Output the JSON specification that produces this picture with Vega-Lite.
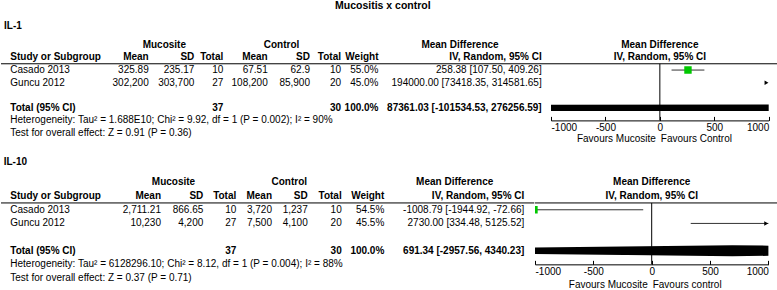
{
  "$schema": "https://vega.github.io/schema/vega-lite/v6.json",
  "padding": 0,
  "background": "white",
  "config": {
    "view": {"stroke": null},
    "font": "Liberation Sans",
    "text": {"fontSize": 10, "color": "black", "baseline": "middle"},
    "axis": {"labelFont": "Liberation Sans", "labelFontSize": 10, "labelColor": "black", "domainColor": "black", "tickColor": "black", "grid": false}
  },
  "title": {"text": "Mucositis x control", "fontSize": 10.5, "fontWeight": "bold", "color": "black", "anchor": "middle", "dx": -7, "offset": 10},
  "datasets": {
    "guides": [{"row": "line"}],
    "plotHead": [{"row": "h1", "text": "Mean Difference"}, {"row": "h2", "text": "IV, Random, 95% CI"}],
    "cells1": [
      {"row": "label", "col": -1, "text": "IL-1"},
      {"row": "h1", "col": 2, "text": "Mucosite"},
      {"row": "h1", "col": 6, "text": "Control"},
      {"row": "h1", "col": 10, "text": "Mean Difference"},
      {"row": "h2", "col": 0, "text": "Study or Subgroup"},
      {"row": "h2", "col": 1, "text": "Mean"},
      {"row": "h2", "col": 3, "text": "SD"},
      {"row": "h2", "col": 4, "text": "Total"},
      {"row": "h2", "col": 5, "text": "Mean"},
      {"row": "h2", "col": 7, "text": "SD"},
      {"row": "h2", "col": 8, "text": "Total"},
      {"row": "h2", "col": 9, "text": "Weight"},
      {"row": "h2", "col": 11, "text": "IV, Random, 95% CI"},
      {"row": "Casado 2013", "col": 0, "text": "Casado 2013"},
      {"row": "Casado 2013", "col": 1, "text": "325.89"},
      {"row": "Casado 2013", "col": 3, "text": "235.17"},
      {"row": "Casado 2013", "col": 4, "text": "10"},
      {"row": "Casado 2013", "col": 5, "text": "67.51"},
      {"row": "Casado 2013", "col": 7, "text": "62.9"},
      {"row": "Casado 2013", "col": 8, "text": "10"},
      {"row": "Casado 2013", "col": 9, "text": "55.0%"},
      {"row": "Casado 2013", "col": 11, "text": "258.38 [107.50, 409.26]"},
      {"row": "Guncu 2012", "col": 0, "text": "Guncu 2012"},
      {"row": "Guncu 2012", "col": 1, "text": "302,200"},
      {"row": "Guncu 2012", "col": 3, "text": "303,700"},
      {"row": "Guncu 2012", "col": 4, "text": "27"},
      {"row": "Guncu 2012", "col": 5, "text": "108,200"},
      {"row": "Guncu 2012", "col": 7, "text": "85,900"},
      {"row": "Guncu 2012", "col": 8, "text": "20"},
      {"row": "Guncu 2012", "col": 9, "text": "45.0%"},
      {"row": "Guncu 2012", "col": 11, "text": "194000.00 [73418.35, 314581.65]"},
      {"row": "Total (95% CI)", "col": 0, "text": "Total (95% CI)"},
      {"row": "Total (95% CI)", "col": 4, "text": "37"},
      {"row": "Total (95% CI)", "col": 8, "text": "30"},
      {"row": "Total (95% CI)", "col": 9, "text": "100.0%"},
      {"row": "Total (95% CI)", "col": 11, "text": "87361.03 [-101534.53, 276256.59]"},
      {"row": "het", "col": 0, "text": "Heterogeneity: Tau² = 1.688E10; Chi² = 9.92, df = 1 (P = 0.002); I² = 90%"},
      {"row": "test", "col": 0, "text": "Test for overall effect: Z = 0.91 (P = 0.36)"}
    ],
    "cells2": [
      {"row": "label", "col": -1, "text": "IL-10"},
      {"row": "h1", "col": 2, "text": "Mucosite"},
      {"row": "h1", "col": 6, "text": "Control"},
      {"row": "h1", "col": 10, "text": "Mean Difference"},
      {"row": "h2", "col": 0, "text": "Study or Subgroup"},
      {"row": "h2", "col": 1, "text": "Mean"},
      {"row": "h2", "col": 3, "text": "SD"},
      {"row": "h2", "col": 4, "text": "Total"},
      {"row": "h2", "col": 5, "text": "Mean"},
      {"row": "h2", "col": 7, "text": "SD"},
      {"row": "h2", "col": 8, "text": "Total"},
      {"row": "h2", "col": 9, "text": "Weight"},
      {"row": "h2", "col": 11, "text": "IV, Random, 95% CI"},
      {"row": "Casado 2013", "col": 0, "text": "Casado 2013"},
      {"row": "Casado 2013", "col": 1, "text": "2,711.21"},
      {"row": "Casado 2013", "col": 3, "text": "866.65"},
      {"row": "Casado 2013", "col": 4, "text": "10"},
      {"row": "Casado 2013", "col": 5, "text": "3,720"},
      {"row": "Casado 2013", "col": 7, "text": "1,237"},
      {"row": "Casado 2013", "col": 8, "text": "10"},
      {"row": "Casado 2013", "col": 9, "text": "54.5%"},
      {"row": "Casado 2013", "col": 11, "text": "-1008.79 [-1944.92, -72.66]"},
      {"row": "Guncu 2012", "col": 0, "text": "Guncu 2012"},
      {"row": "Guncu 2012", "col": 1, "text": "10,230"},
      {"row": "Guncu 2012", "col": 3, "text": "4,200"},
      {"row": "Guncu 2012", "col": 4, "text": "27"},
      {"row": "Guncu 2012", "col": 5, "text": "7,500"},
      {"row": "Guncu 2012", "col": 7, "text": "4,100"},
      {"row": "Guncu 2012", "col": 8, "text": "20"},
      {"row": "Guncu 2012", "col": 9, "text": "45.5%"},
      {"row": "Guncu 2012", "col": 11, "text": "2730.00 [334.48, 5125.52]"},
      {"row": "Total (95% CI)", "col": 0, "text": "Total (95% CI)"},
      {"row": "Total (95% CI)", "col": 4, "text": "37"},
      {"row": "Total (95% CI)", "col": 8, "text": "30"},
      {"row": "Total (95% CI)", "col": 9, "text": "100.0%"},
      {"row": "Total (95% CI)", "col": 11, "text": "691.34 [-2957.56, 4340.23]"},
      {"row": "het", "col": 0, "text": "Heterogeneity: Tau² = 6128296.10; Chi² = 8.12, df = 1 (P = 0.004); I² = 88%"},
      {"row": "test", "col": 0, "text": "Test for overall effect: Z = 0.37 (P = 0.71)"}
    ],
    "studies1": [
      {"row": "Casado 2013", "md": 258.38, "lo": 107.50, "hi": 409.26, "weight": 55.0},
      {"row": "Guncu 2012", "md": 194000.00, "lo": 73418.35, "hi": 314581.65, "weight": 45.0}
    ],
    "studies2": [
      {"row": "Casado 2013", "md": -1008.79, "lo": -1944.92, "hi": -72.66, "weight": 54.5},
      {"row": "Guncu 2012", "md": 2730.00, "lo": 334.48, "hi": 5125.52, "weight": 45.5}
    ],
    "totals1": [{"row": "Total (95% CI)", "md": 87361.03, "lo": -101534.53, "hi": 276256.59}],
    "totals2": [{"row": "Total (95% CI)", "md": 691.34, "lo": -2957.56, "hi": 4340.23}],
    "favours1": [{"group": "Mucosite", "label": "Favours Mucosite"}, {"group": "Control", "label": "Favours Control"}],
    "favours2": [{"group": "Mucosite", "label": "Favours Mucosite"}, {"group": "Control", "label": "Favours control"}]
  },
  "vconcat": [
    {
      "hconcat": [
        {
          "width": 550,
          "height": 113.3,
          "layer": [
            {
              "data": {"name": "guides"},
              "mark": {"type": "rule", "color": "black", "strokeWidth": 1},
              "encoding": {
                "x": {"datum": -2, "type": "quantitative", "scale": {"domain": [-2,-1,0,1,2,3,4,5,6,7,8,9,10,11,12], "range": [0,3,9.3,147.7,163.3,193.3,222.3,266.7,280.5,309,340,377.5,459,540.7,550], "nice": false, "zero": false}, "axis": null},
                "x2": {"datum": 12},
                "y": {"field": "row", "type": "nominal", "scale": {"type": "point", "padding": 0, "domain": ["label","s1","s2","h1","s3","h2","line","Casado 2013","s4","Guncu 2012","s5","s6","s7","Total (95% CI)","s8","het","s9","test","fav"]}, "axis": null}
              }
            },
            {
              "data": {"name": "cells1"},
              "transform": [{"filter": "datum.col <= 0 && (datum.row === 'label' || datum.row === 'h2' || datum.row === 'Total (95% CI)')"}],
              "mark": {"type": "text", "align": "left", "fontWeight": "bold"},
              "encoding": {
                "x": {"field": "col", "type": "quantitative"},
                "y": {"field": "row", "type": "nominal"},
                "text": {"field": "text"}
              }
            },
            {
              "data": {"name": "cells1"},
              "transform": [{"filter": "datum.col === 0 && (datum.row === 'Casado 2013' || datum.row === 'Guncu 2012' || datum.row === 'het' || datum.row === 'test')"}],
              "mark": {"type": "text", "align": "left"},
              "encoding": {
                "x": {"field": "col", "type": "quantitative"},
                "y": {"field": "row", "type": "nominal"},
                "text": {"field": "text"}
              }
            },
            {
              "data": {"name": "cells1"},
              "transform": [{"filter": "datum.col > 0 && (datum.row === 'h2' || datum.row === 'Total (95% CI)')"}],
              "mark": {"type": "text", "align": "right", "fontWeight": "bold"},
              "encoding": {
                "x": {"field": "col", "type": "quantitative"},
                "y": {"field": "row", "type": "nominal"},
                "text": {"field": "text"}
              }
            },
            {
              "data": {"name": "cells1"},
              "transform": [{"filter": "datum.col > 0 && (datum.row === 'Casado 2013' || datum.row === 'Guncu 2012')"}],
              "mark": {"type": "text", "align": "right"},
              "encoding": {
                "x": {"field": "col", "type": "quantitative"},
                "y": {"field": "row", "type": "nominal"},
                "text": {"field": "text"}
              }
            },
            {
              "data": {"name": "cells1"},
              "transform": [{"filter": "datum.row === 'h1'"}],
              "mark": {"type": "text", "align": "center", "fontWeight": "bold"},
              "encoding": {
                "x": {"field": "col", "type": "quantitative"},
                "y": {"field": "row", "type": "nominal"},
                "text": {"field": "text"}
              }
            }
          ]
        },
        {
          "width": 217.7,
          "height": 113.3,
          "resolve": {"scale": {"size": "independent"}},
          "layer": [
            {
              "data": {"name": "guides"},
              "mark": {"type": "rule", "color": "black", "strokeWidth": 1},
              "encoding": {
                "x": {"datum": -1000, "type": "quantitative", "scale": {"domain": [-1000, 1000], "nice": false, "zero": false}, "axis": {"values": [-1000,-500,0,500,1000], "offset": -18.9, "tickSize": -4, "labelPadding": 6, "title": null, "labelFlush": true, "labelOverlap": false, "labelExpr": "'' + datum.value"}},
                "x2": {"datum": 1085},
                "y": {"field": "row", "type": "nominal", "scale": {"type": "point", "padding": 0, "domain": ["label","s1","s2","h1","s3","h2","line","Casado 2013","s4","Guncu 2012","s5","s6","s7","Total (95% CI)","s8","het","s9","test","fav"]}, "axis": null}
              }
            },
            {
              "data": {"name": "guides"},
              "mark": {"type": "rule", "color": "black", "strokeWidth": 1},
              "encoding": {
                "x": {"datum": 0, "type": "quantitative"},
                "y": {"field": "row", "type": "nominal"},
                "y2": {"datum": "het"}
              }
            },
            {
              "data": {"name": "plotHead"},
              "mark": {"type": "text", "align": "center", "fontWeight": "bold"},
              "encoding": {
                "x": {"datum": 0, "type": "quantitative"},
                "y": {"field": "row", "type": "nominal"},
                "text": {"field": "text"}
              }
            },
            {
              "data": {"name": "studies1"},
              "mark": {"type": "rule", "color": "#333333", "strokeWidth": 1, "clip": true},
              "encoding": {
                "x": {"field": "lo", "type": "quantitative"},
                "x2": {"field": "hi"},
                "y": {"field": "row", "type": "nominal"}
              }
            },
            {
              "data": {"name": "studies1"},
              "mark": {"type": "point", "shape": "square", "filled": true, "color": "#00c800", "opacity": 1, "clip": true},
              "encoding": {
                "x": {"field": "md", "type": "quantitative"},
                "y": {"field": "row", "type": "nominal"},
                "size": {"field": "weight", "type": "quantitative", "scale": {"domain": [0, 100], "range": [0, 100]}, "legend": null}
              }
            },
            {
              "data": {"name": "studies1"},
              "transform": [{"filter": "datum.hi > 1000"}],
              "mark": {"type": "point", "shape": "triangle-right", "filled": true, "color": "black", "opacity": 1, "size": 20, "xOffset": -2.2},
              "encoding": {
                "x": {"datum": 1000, "type": "quantitative"},
                "y": {"field": "row", "type": "nominal"}
              }
            },
            {
              "data": {"name": "totals1"},
              "transform": [
                {"fold": ["lo", "md", "hi"], "as": ["key", "value"]},
                {"calculate": "datum.key === 'md' ? 1 : 0", "as": "w"}
              ],
              "mark": {"type": "trail", "color": "black", "clip": true},
              "encoding": {
                "x": {"field": "value", "type": "quantitative"},
                "y": {"field": "row", "type": "nominal"},
                "order": {"field": "value", "type": "quantitative"},
                "size": {"field": "w", "type": "quantitative", "scale": {"domain": [0, 1], "range": [0, 11]}, "legend": null}
              }
            },
            {
              "data": {"name": "favours1"},
              "transform": [{"filter": "datum.group === 'Mucosite'"}],
              "mark": {"type": "text", "align": "right", "dx": -4},
              "encoding": {
                "x": {"datum": 0, "type": "quantitative"},
                "y": {"datum": "fav", "type": "nominal"},
                "text": {"field": "label"}
              }
            },
            {
              "data": {"name": "favours1"},
              "transform": [{"filter": "datum.group === 'Control'"}],
              "mark": {"type": "text", "align": "left", "dx": 1},
              "encoding": {
                "x": {"datum": 0, "type": "quantitative"},
                "y": {"datum": "fav", "type": "nominal"},
                "text": {"field": "label"}
              }
            }
          ]
        }
      ],
      "spacing": 0,
      "bounds": "flush",
      "resolve": {"scale": {"x": "independent", "y": "independent", "size": "independent"}}
    },
    {
      "hconcat": [
        {
          "width": 533.3,
          "height": 122.85,
          "layer": [
            {
              "data": {"name": "guides"},
              "mark": {"type": "rule", "color": "black", "strokeWidth": 1},
              "encoding": {
                "x": {"datum": -2, "type": "quantitative", "scale": {"domain": [-2,-1,0,1,2,3,4,5,6,7,8,9,10,11,12], "range": [0,2.7,9.3,160,172.5,202.3,235.3,271,288.3,306.7,340.7,383.3,453.7,523.3,533.3], "nice": false, "zero": false}, "axis": null},
                "x2": {"datum": 12},
                "y": {"field": "row", "type": "nominal", "scale": {"type": "point", "padding": 0, "domain": ["label","s1","s2","h1","s3","h2","line","Casado 2013","s4","Guncu 2012","s5","s6","s7","Total (95% CI)","s8","het","s9","test","fav"]}, "axis": null}
              }
            },
            {
              "data": {"name": "cells2"},
              "transform": [{"filter": "datum.col <= 0 && (datum.row === 'label' || datum.row === 'h2' || datum.row === 'Total (95% CI)')"}],
              "mark": {"type": "text", "align": "left", "fontWeight": "bold"},
              "encoding": {
                "x": {"field": "col", "type": "quantitative"},
                "y": {"field": "row", "type": "nominal"},
                "text": {"field": "text"}
              }
            },
            {
              "data": {"name": "cells2"},
              "transform": [{"filter": "datum.col === 0 && (datum.row === 'Casado 2013' || datum.row === 'Guncu 2012' || datum.row === 'het' || datum.row === 'test')"}],
              "mark": {"type": "text", "align": "left"},
              "encoding": {
                "x": {"field": "col", "type": "quantitative"},
                "y": {"field": "row", "type": "nominal"},
                "text": {"field": "text"}
              }
            },
            {
              "data": {"name": "cells2"},
              "transform": [{"filter": "datum.col > 0 && (datum.row === 'h2' || datum.row === 'Total (95% CI)')"}],
              "mark": {"type": "text", "align": "right", "fontWeight": "bold"},
              "encoding": {
                "x": {"field": "col", "type": "quantitative"},
                "y": {"field": "row", "type": "nominal"},
                "text": {"field": "text"}
              }
            },
            {
              "data": {"name": "cells2"},
              "transform": [{"filter": "datum.col > 0 && (datum.row === 'Casado 2013' || datum.row === 'Guncu 2012')"}],
              "mark": {"type": "text", "align": "right"},
              "encoding": {
                "x": {"field": "col", "type": "quantitative"},
                "y": {"field": "row", "type": "nominal"},
                "text": {"field": "text"}
              }
            },
            {
              "data": {"name": "cells2"},
              "transform": [{"filter": "datum.row === 'h1'"}],
              "mark": {"type": "text", "align": "center", "fontWeight": "bold"},
              "encoding": {
                "x": {"field": "col", "type": "quantitative"},
                "y": {"field": "row", "type": "nominal"},
                "text": {"field": "text"}
              }
            }
          ]
        },
        {
          "width": 233.4,
          "height": 122.85,
          "resolve": {"scale": {"size": "independent"}},
          "layer": [
            {
              "data": {"name": "guides"},
              "mark": {"type": "rule", "color": "black", "strokeWidth": 1},
              "encoding": {
                "x": {"datum": -1000, "type": "quantitative", "scale": {"domain": [-1000, 1000], "nice": false, "zero": false}, "axis": {"values": [-1000,-500,0,500,1000], "offset": -20.5, "tickSize": -4, "labelPadding": 6, "title": null, "labelFlush": true, "labelOverlap": false, "labelExpr": "'' + datum.value"}},
                "x2": {"datum": 1088},
                "y": {"field": "row", "type": "nominal", "scale": {"type": "point", "padding": 0, "domain": ["label","s1","s2","h1","s3","h2","line","Casado 2013","s4","Guncu 2012","s5","s6","s7","Total (95% CI)","s8","het","s9","test","fav"]}, "axis": null}
              }
            },
            {
              "data": {"name": "guides"},
              "mark": {"type": "rule", "color": "black", "strokeWidth": 1},
              "encoding": {
                "x": {"datum": 0, "type": "quantitative"},
                "y": {"field": "row", "type": "nominal"},
                "y2": {"datum": "het"}
              }
            },
            {
              "data": {"name": "plotHead"},
              "mark": {"type": "text", "align": "center", "fontWeight": "bold"},
              "encoding": {
                "x": {"datum": 0, "type": "quantitative"},
                "y": {"field": "row", "type": "nominal"},
                "text": {"field": "text"}
              }
            },
            {
              "data": {"name": "studies2"},
              "mark": {"type": "rule", "color": "#333333", "strokeWidth": 1, "clip": true},
              "encoding": {
                "x": {"field": "lo", "type": "quantitative"},
                "x2": {"field": "hi"},
                "y": {"field": "row", "type": "nominal"}
              }
            },
            {
              "data": {"name": "studies2"},
              "mark": {"type": "point", "shape": "square", "filled": true, "color": "#00c800", "opacity": 1, "clip": true},
              "encoding": {
                "x": {"field": "md", "type": "quantitative"},
                "y": {"field": "row", "type": "nominal"},
                "size": {"field": "weight", "type": "quantitative", "scale": {"domain": [0, 100], "range": [0, 100]}, "legend": null}
              }
            },
            {
              "data": {"name": "studies2"},
              "transform": [{"filter": "datum.hi > 1000"}],
              "mark": {"type": "point", "shape": "triangle-right", "filled": true, "color": "black", "opacity": 1, "size": 20, "xOffset": -2.2},
              "encoding": {
                "x": {"datum": 1000, "type": "quantitative"},
                "y": {"field": "row", "type": "nominal"}
              }
            },
            {
              "data": {"name": "totals2"},
              "transform": [
                {"fold": ["lo", "md", "hi"], "as": ["key", "value"]},
                {"calculate": "datum.key === 'md' ? 1 : 0", "as": "w"}
              ],
              "mark": {"type": "trail", "color": "black", "clip": true},
              "encoding": {
                "x": {"field": "value", "type": "quantitative"},
                "y": {"field": "row", "type": "nominal"},
                "order": {"field": "value", "type": "quantitative"},
                "size": {"field": "w", "type": "quantitative", "scale": {"domain": [0, 1], "range": [0, 11]}, "legend": null}
              }
            },
            {
              "data": {"name": "favours2"},
              "transform": [{"filter": "datum.group === 'Mucosite'"}],
              "mark": {"type": "text", "align": "right", "dx": -4},
              "encoding": {
                "x": {"datum": 0, "type": "quantitative"},
                "y": {"datum": "fav", "type": "nominal"},
                "text": {"field": "label"}
              }
            },
            {
              "data": {"name": "favours2"},
              "transform": [{"filter": "datum.group === 'Control'"}],
              "mark": {"type": "text", "align": "left", "dx": 1},
              "encoding": {
                "x": {"datum": 0, "type": "quantitative"},
                "y": {"datum": "fav", "type": "nominal"},
                "text": {"field": "label"}
              }
            }
          ]
        }
      ],
      "spacing": 0,
      "bounds": "flush",
      "resolve": {"scale": {"x": "independent", "y": "independent", "size": "independent"}}
    }
  ],
  "spacing": 12,
  "resolve": {"scale": {"x": "independent", "y": "independent", "size": "independent"}}
}
